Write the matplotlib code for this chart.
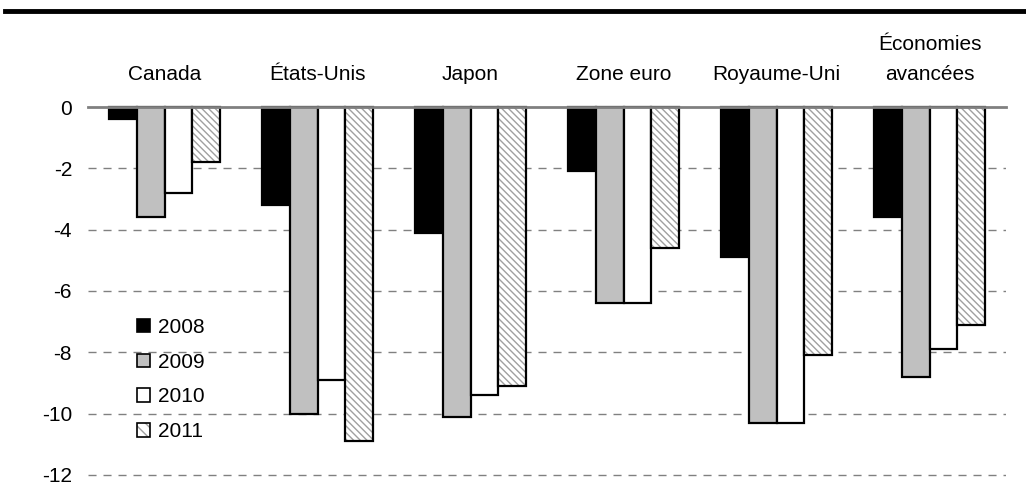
import matplotlib
matplotlib.use("Agg")
import matplotlib.pyplot as plt
import numpy as np
from matplotlib.patches import Patch
from matplotlib.legend_handler import HandlerTuple
from matplotlib.lines import Line2D

plt.rcParams['font.family'] = ['Liberation Sans', 'DejaVu Sans']

categories = ["Canada", "États-Unis", "Japon", "Zone euro", "Royaume-Uni", "Économies\navancées"]
years = ["2008", "2009", "2010", "2011"]
v2008 = [-0.4, -3.2, -4.1, -2.1, -4.9, -3.6]
v2009 = [-3.6, -10.0, -10.1, -6.4, -10.3, -8.8]
v2010 = [-2.8, -8.9, -9.4, -6.4, -10.3, -7.9]
v2011 = [-1.8, -10.9, -9.1, -4.6, -8.1, -7.1]
yticks = [0, -2, -4, -6, -8, -10, -12]

series = [v2008, v2009, v2010, v2011]
fills = ["#000000", "#c0c0c0", "#ffffff", "#ffffff"]
hatches = [None, None, None, "\\\\\\\\\\"]

FS = 15

fig = plt.figure(figsize=(10.26, 5.01), dpi=100)
ax = fig.add_axes([88/1026, 1-481/501, (1006-88)/1026, (481-104)/501])

x = np.arange(len(categories))
w = 0.183
offs = [-1.5, -0.5, 0.5, 1.5]

for vals, fc, h, o in zip(series, fills, hatches, offs):
    if h:
        ax.bar(x + o*w, vals, w, color=fc, edgecolor="#a0a0a0", hatch=h, linewidth=0, zorder=3)
        ax.bar(x + o*w, vals, w, fill=False, edgecolor="black", linewidth=1.6, zorder=4)
    else:
        ax.bar(x + o*w, vals, w, color=fc, edgecolor="black", linewidth=1.6, zorder=3)

ax.set_xlim(-0.5, len(categories)-0.5)
ax.set_ylim(-12.2, 0.1)
ax.set_yticks(yticks)
ax.set_yticklabels([str(t) for t in yticks], fontsize=FS)
ax.tick_params(axis='y', length=0, pad=11.5)
ax.set_xticks([])
for s in ax.spines.values():
    s.set_visible(False)
for t in yticks[1:]:
    ax.axhline(t, color="#808080", linewidth=1, linestyle=(0, (5.8, 5)), zorder=1)
ax.axhline(0, color="#808080", linewidth=2, zorder=5, clip_on=False)

for xi, c in zip(x, categories):
    lines = c.split("\n")
    for k, ln in enumerate(lines):
        yy = 0.87 + (len(lines)-1-k) * 0.98
        ax.text(xi, yy, ln, ha="center", va="baseline", fontsize=FS, clip_on=False)

h1 = Patch(facecolor="#000000", edgecolor="black", linewidth=1.2)
h2 = Patch(facecolor="#c0c0c0", edgecolor="black", linewidth=1.2)
h3 = Patch(facecolor="#ffffff", edgecolor="black", linewidth=1.2)
h4a = Patch(facecolor="#ffffff", edgecolor="#a0a0a0", hatch="\\\\\\", linewidth=0)
h4b = Patch(fill=False, edgecolor="black", linewidth=1.2)
leg = fig.legend([h1, h2, h3, (h4a, h4b)], years, loc="upper left",
                 bbox_to_anchor=(118/1026, 1-299/501), frameon=False, fontsize=FS,
                 handlelength=0.62, handleheight=0.62, handletextpad=0.4, labelspacing=0.76,
                 handler_map={tuple: HandlerTuple(ndivide=1, pad=0)})

fig.add_artist(Line2D([5/1026, 1.0], [1-11/501, 1-11/501], color="black", linewidth=3.5))

fig.savefig("out.png", dpi=100)
